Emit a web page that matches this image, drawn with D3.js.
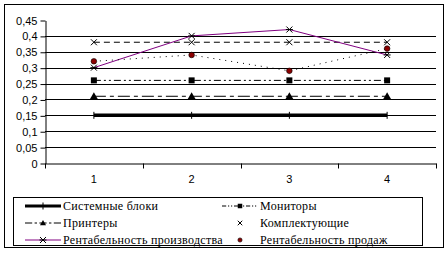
<!DOCTYPE html>
<html lang="ru">
<head>
<meta charset="UTF-8" />
<title>Рентабельность</title>
<style>
  body { margin: 0; background: #fff; }
  svg { display: block; }
  .axis text { font-family: 'Liberation Sans', Arial, sans-serif; font-size: 11px; fill: #000; }
  .legend text { font-family: 'Liberation Serif', 'Times New Roman', serif; font-size: 12px; fill: #000; letter-spacing: 0.3px; }
</style>
</head>
<body>
<div id="chart"></div>
<script src="https://cdn.jsdelivr.net/npm/d3@7"></script>
<script>
  const categories = ["1", "2", "3", "4"];
  const yTicks = [0, 0.05, 0.1, 0.15, 0.2, 0.25, 0.3, 0.35, 0.4, 0.45];

  const sysBlocks = [0.15, 0.15, 0.15, 0.15];
  const monitors = [0.26, 0.26, 0.26, 0.26];
  const printers = [0.21, 0.21, 0.21, 0.21];
  const components = [0.38, 0.38, 0.38, 0.38];
  const prodProfit = [0.30, 0.40, 0.42, 0.34];
  const salesProfit = [0.32, 0.34, 0.29, 0.36];

  const seriesNames = ["Системные блоки", "Мониторы", "Принтеры", "Комплектующие",
    "Рентабельность производства", "Рентабельность продаж"];

  // style per series (line + marker)
  const series = [
    { name: seriesNames[0], values: sysBlocks, color: "#000", width: 3.5, dash: null, marker: "plus", legendLine: true },
    { name: seriesNames[1], values: monitors, color: "#000", width: 1, dash: "7,3,2,3,2,3", marker: "square", legendLine: true },
    { name: seriesNames[2], values: printers, color: "#000", width: 1, dash: "12,4,4,4", marker: "triangle", legendLine: true },
    { name: seriesNames[3], values: components, color: "#000", width: 1, dash: "6,4", marker: "x", legendLine: false },
    { name: seriesNames[4], values: prodProfit, color: "#800080", width: 1, dash: null, marker: "star", legendLine: true },
    { name: seriesNames[5], values: salesProfit, color: "#000", width: 1, dash: "1,5", marker: "dot", legendLine: false }
  ];

  const W = 448, H = 253;
  const svg = d3.select("#chart").append("svg").attr("width", W).attr("height", H);

  svg.append("rect").attr("x", 4.5).attr("y", 4.5).attr("width", 439).attr("height", 243)
    .attr("fill", "none").attr("stroke", "#000").attr("stroke-width", 1);

  const plot = { left: 45, right: 436, top: 20, bottom: 163 };
  const x = d3.scaleBand().domain(categories).range([plot.left, plot.right]);
  const y = d3.scaleLinear().domain([0, 0.45]).range([plot.bottom, plot.top]);

  // gridlines
  svg.append("g").selectAll("line")
    .data(yTicks.filter(t => t > 0 && t < 0.45))
    .join("line")
    .attr("x1", plot.left).attr("x2", plot.right)
    .attr("y1", d => Math.round(y(d)) + 0.5).attr("y2", d => Math.round(y(d)) + 0.5)
    .attr("stroke", "#000");

  const fmt = d => d3.format(".2~f")(d).replace(".", ",");

  const yAxis = svg.append("g").attr("class", "axis")
    .attr("transform", `translate(${plot.left + 0.5},0.5)`)
    .call(d3.axisLeft(y).tickValues(yTicks).tickFormat(fmt).tickSize(5).tickSizeOuter(0));
  yAxis.select(".domain").attr("stroke", "#000");
  yAxis.selectAll(".tick line").attr("stroke", "#000");
  yAxis.selectAll(".tick text").attr("x", -8);

  const xAxis = svg.append("g").attr("class", "axis")
    .attr("transform", `translate(0,${Math.round(plot.bottom) + 0.5})`)
    .call(d3.axisBottom(x).tickSize(0).tickSizeOuter(0));
  xAxis.select(".domain").attr("stroke", "#000");
  xAxis.selectAll(".tick text").attr("dy", "0.71em").attr("y", 12);
  // category boundary ticks
  xAxis.append("g").selectAll("line")
    .data(d3.range(categories.length + 1))
    .join("line")
    .attr("x1", i => Math.round(plot.left + i * x.step()) + 0.5)
    .attr("x2", i => Math.round(plot.left + i * x.step()) + 0.5)
    .attr("y1", 0).attr("y2", 5).attr("stroke", "#000");

  function drawMarker(g, type, cx, cy, color, small) {
    const k = small ? 0.75 : 1;
    if (type === "plus") {
      g.append("line").attr("x1", cx).attr("x2", cx).attr("y1", cy - 3.5).attr("y2", cy + 3.5).attr("stroke", "#000");
    } else if (type === "square") {
      g.append("rect").attr("x", cx - 3 * k).attr("y", cy - 3 * k).attr("width", 6 * k).attr("height", 6 * k).attr("fill", "#000");
    } else if (type === "triangle") {
      g.append("path").attr("d", `M${cx},${cy - 4 * k}L${cx + 4 * k},${cy + 3 * k}L${cx - 4 * k},${cy + 3 * k}Z`).attr("fill", "#000");
    } else if (type === "x") {
      g.append("path").attr("d", `M${cx - 3 * k},${cy - 3 * k}L${cx + 3 * k},${cy + 3 * k}M${cx + 3 * k},${cy - 3 * k}L${cx - 3 * k},${cy + 3 * k}`)
        .attr("stroke", "#000").attr("fill", "none");
    } else if (type === "star") {
      g.append("path").attr("d", `M${cx - 3},${cy - 3}L${cx + 3},${cy + 3}M${cx + 3},${cy - 3}L${cx - 3},${cy + 3}M${cx - 3.5},${cy}L${cx + 3.5},${cy}`)
        .attr("stroke", "#000").attr("fill", "none");
    } else if (type === "dot") {
      g.append("circle").attr("cx", cx).attr("cy", cy).attr("r", 2.8 * k).attr("fill", "#8b0000").attr("stroke", "#000").attr("stroke-width", 0.6);
    }
  }

  const line = d3.line()
    .x((d, i) => x(categories[i]) + x.bandwidth() / 2)
    .y(d => y(d));

  series.forEach(s => {
    const g = svg.append("g");
    g.append("path").datum(s.values)
      .attr("d", line)
      .attr("fill", "none")
      .attr("stroke", s.color)
      .attr("stroke-width", s.width)
      .attr("stroke-dasharray", s.dash);
    s.values.forEach((v, i) => {
      drawMarker(g, s.marker, x(categories[i]) + x.bandwidth() / 2, y(v), s.color);
    });
  });

  // legend
  const legend = svg.append("g").attr("class", "legend");
  legend.append("rect").attr("x", 13.5).attr("y", 197.5).attr("width", 409).attr("height", 48)
    .attr("fill", "none").attr("stroke", "#000");

  const colX = [25, 222];
  const rowY = [206, 223, 240];
  series.forEach((s, i) => {
    const cx = colX[i % 2], cy = rowY[Math.floor(i / 2)];
    const g = legend.append("g");
    if (s.legendLine) {
      g.append("line").attr("x1", cx).attr("x2", cx + 36).attr("y1", cy).attr("y2", cy)
        .attr("stroke", s.color).attr("stroke-width", s.width === 1 ? 1 : 3)
        .attr("stroke-dasharray", s.dash ? s.dash.split(",").map(v => v * 0.6).join(",") : null);
    }
    drawMarker(g, s.marker, cx + 18, cy, s.color, true);
    g.append("text").attr("x", cx + 38).attr("y", cy).attr("dy", "0.35em").text(s.name);
  });
</script>
</body>
</html>
